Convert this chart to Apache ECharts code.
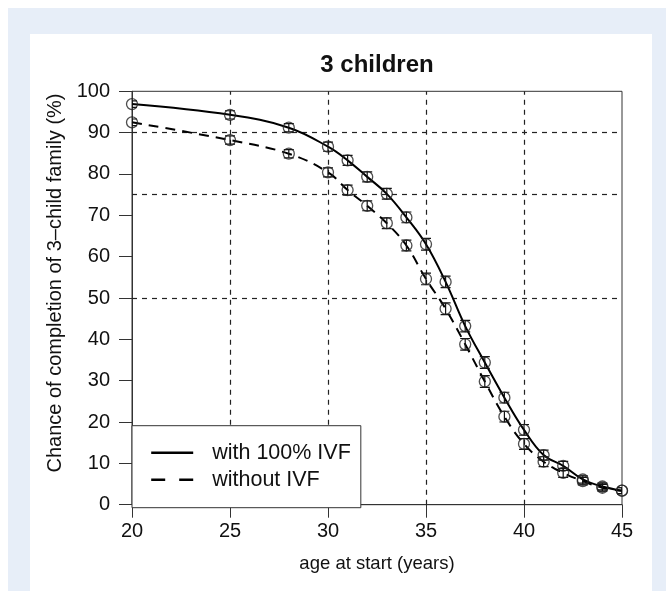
<!DOCTYPE html>
<html>
<head>
<meta charset="utf-8">
<script src="https://cdn.jsdelivr.net/npm/echarts@6/dist/echarts.min.js"></script>
<style>
html,body{margin:0;padding:0;background:#fff;}
#chart{width:666px;height:591px;}
</style>
</head>
<body>
<div id="chart"></div>
<script>
// ---- data ----
var titleText = '3 children';
var xName = 'age at start (years)';
var yName = 'Chance of completion of 3\u2013child family (%)';
var seriesNames = ['with 100% IVF', 'without IVF'];
var ages = [20,25,28,30,31,32,33,34,35,36,37,38,39,40,41,42,43,44,45];
var withIVF = [96.9,94.3,91.2,86.6,83.3,79.3,75.2,69.5,63.0,53.9,43.2,34.4,25.9,18.1,12.0,9.4,6.1,4.4,3.4];
var withoutIVF = [92.5,88.2,84.9,80.4,76.1,72.3,68.1,62.7,54.6,47.4,38.8,29.8,21.3,14.7,10.4,7.7,5.7,4.1,3.4];
var withErr = [0.8,1.0,1.0,1.1,1.2,1.2,1.3,1.3,1.4,1.4,1.4,1.4,1.3,1.3,1.2,1.1,0.9,0.8,0.7];
var withoutErr = [0.8,1.0,1.0,1.1,1.2,1.2,1.3,1.3,1.4,1.4,1.4,1.4,1.3,1.3,1.2,1.1,0.9,0.8,0.7];
var gridX = [25,30,35,40];
var gridY = [50,75,90];

var FONT = '"Liberation Sans", Arial, sans-serif';

function pairs(xs, ys){ return xs.map(function(x,i){ return [x, ys[i]]; }); }
function errData(xs, ys, es){ return xs.map(function(x,i){ return [x, ys[i]-es[i], ys[i]+es[i]]; }); }

function renderErr(params, api){
  var x = api.value(0);
  var p1 = api.coord([x, api.value(1)]);
  var p2 = api.coord([x, api.value(2)]);
  var hw = 5;
  var st = {stroke:'#111', lineWidth:1.2, fill:null};
  return {type:'group', children:[
    {type:'line', shape:{x1:p1[0],y1:p1[1],x2:p2[0],y2:p2[1]}, style:st},
    {type:'line', shape:{x1:p1[0]-hw,y1:p1[1],x2:p1[0]+hw,y2:p1[1]}, style:st},
    {type:'line', shape:{x1:p2[0]-hw,y1:p2[1],x2:p2[0]+hw,y2:p2[1]}, style:st}
  ]};
}

var chart = echarts.init(document.getElementById('chart'), null, {renderer:'canvas'});

var gridMarks = gridX.map(function(v){ return {xAxis:v}; }).concat(gridY.map(function(v){ return {yAxis:v}; }));

var option = {
  animation:false,
  backgroundColor:'#fff',
  graphic:[
    {type:'rect', left:8, top:8, shape:{width:658, height:583}, style:{fill:'#e7eef8'}, z:-10, silent:true},
    {type:'rect', left:30, top:34, shape:{width:622, height:557}, style:{fill:'#ffffff'}, z:-9, silent:true}
  ],
  title:{
    text:titleText, left:372, top:48, textAlign:'center',
    textStyle:{fontFamily:FONT, fontSize:24, fontWeight:'bold', color:'#111'}
  },
  grid:{left:132, top:91.3, width:490, height:413.4, show:true, borderColor:'#333', borderWidth:1, backgroundColor:'#fff'},
  legend:{
    data:[
      {name:seriesNames[0], lineStyle:{width:2.4}},
      {name:seriesNames[1], lineStyle:{width:2.4, type:[14,14]}}
    ],
    orient:'vertical', left:132, top:425.7,
    itemWidth:42, itemHeight:14, itemGap:5,
    padding:[16,10,17,18],
    borderColor:'#333', borderWidth:1, borderRadius:0,
    backgroundColor:'#fff',
    itemStyle:{opacity:0},
    textStyle:{fontFamily:FONT, fontSize:21.5, color:'#111', lineHeight:20, padding:[0,0,0,14]},
    z:20
  },
  xAxis:{
    type:'value', min:20, max:45, interval:5,
    name:xName, nameLocation:'middle', nameGap:50,
    nameTextStyle:{fontFamily:FONT, fontSize:18.5, color:'#111'},
    axisLine:{show:true, lineStyle:{color:'#333', width:1}},
    axisTick:{show:true, inside:false, length:13, lineStyle:{color:'#333'}},
    axisLabel:{fontFamily:FONT, fontSize:20, color:'#111', margin:17},
    splitLine:{show:false}
  },
  yAxis:{
    type:'value', min:0, max:100, interval:10,
    name:yName, nameLocation:'middle', nameGap:64,
    nameTextStyle:{fontFamily:FONT, fontSize:20, color:'#111', padding:[0,0,0,30]},
    axisLine:{show:true, lineStyle:{color:'#333', width:1}},
    axisTick:{show:true, inside:false, length:13, lineStyle:{color:'#333'}},
    axisLabel:{fontFamily:FONT, fontSize:20, color:'#111', margin:22},
    splitLine:{show:false}
  },
  series:[
    {
      name:seriesNames[0], type:'line', data:pairs(ages, withIVF),
      smooth:0.4, symbol:'none', lineStyle:{color:'#000', width:2, type:'solid'}, itemStyle:{color:'#000'}, z:5,
      markLine:{silent:true, symbol:'none', label:{show:false},
        lineStyle:{color:'#222', width:1.2, type:[5,5]}, data:gridMarks}
    },
    {
      name:seriesNames[1], type:'line', data:pairs(ages, withoutIVF),
      smooth:0.4, symbol:'none', lineStyle:{color:'#000', width:2, type:[10,7]}, itemStyle:{color:'#000'}, z:5
    },
    {
      type:'scatter', data:pairs(ages, withIVF), symbol:'circle', symbolSize:11,
      itemStyle:{color:'rgba(0,0,0,0)', borderColor:'#222', borderWidth:1.3}, z:6
    },
    {
      type:'scatter', data:pairs(ages, withoutIVF), symbol:'circle', symbolSize:11,
      itemStyle:{color:'rgba(0,0,0,0)', borderColor:'#222', borderWidth:1.3}, z:6
    },
    {type:'custom', data:errData(ages, withIVF, withErr), renderItem:renderErr, encode:{x:0, y:[1,2]}, z:6, clip:true},
    {type:'custom', data:errData(ages, withoutIVF, withoutErr), renderItem:renderErr, encode:{x:0, y:[1,2]}, z:6, clip:true}
  ]
};
chart.setOption(option);
</script>
</body>
</html>
